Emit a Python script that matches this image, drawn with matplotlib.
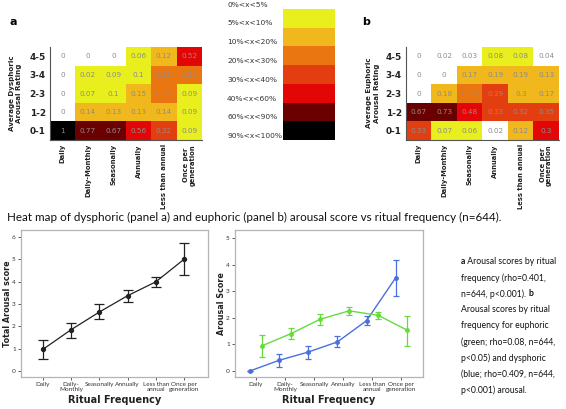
import numpy as np
import matplotlib
matplotlib.use('Agg')
import matplotlib.pyplot as plt
from matplotlib import font_manager
from matplotlib.colors import ListedColormap, BoundaryNorm

# Heat map data ------------------------------------------------------------
freq_labels = ['Daily', 'Daily-Monthly', 'Seasonally', 'Annually',
               'Less than annual', 'Once per\ngeneration']
rating_labels = ['4-5', '3-4', '2-3', '1-2', '0-1']  # top to bottom

dys_values = [[0, 0, 0, 0.06, 0.12, 0.52],
              [0, 0.02, 0.09, 0.1, 0.21, 0.22],
              [0, 0.07, 0.1, 0.15, 0.21, 0.09],
              [0, 0.14, 0.13, 0.13, 0.14, 0.09],
              [1, 0.77, 0.67, 0.56, 0.32, 0.09]]
# colour class used in the figure (0 = white ... 7 = black)
dys_levels = [[0, 0, 0, 1, 2, 5],
              [0, 1, 1, 1, 3, 3],
              [0, 1, 1, 2, 3, 1],
              [0, 2, 2, 2, 2, 1],
              [7, 6, 6, 5, 4, 1]]

eup_values = [[0, 0.02, 0.03, 0.08, 0.08, 0.04],
              [0, 0, 0.17, 0.19, 0.19, 0.13],
              [0, 0.18, 0.26, 0.39, 0.3, 0.17],
              [0.67, 0.73, 0.48, 0.33, 0.32, 0.35],
              [0.33, 0.07, 0.06, 0.02, 0.12, 0.3]]
eup_levels = [[0, 0, 0, 1, 1, 0],
              [0, 0, 2, 2, 2, 2],
              [0, 2, 3, 4, 2, 2],
              [6, 6, 5, 4, 4, 4],
              [4, 1, 1, 0, 2, 5]]

bin_labels = ['0%<x<5%', '5%<x<10%', '10%<x<20%', '20%<x<30%', '30%<x<40%',
              '40%<x<60%', '60%<x<90%', '90%<x<100%']
bin_colors = ['#ffffff', '#e8ef1c', '#f0b81c', '#ea7612', '#e23e10',
              '#e20606', '#6a0000', '#000000']

# Line plot data -------------------------------------------------------------
line_freq = ['Daily', 'Daily-\nMonthly', 'Seasonally', 'Annually',
             'Less than\nannual', 'Once per\ngeneration']
total_mean = [0.97, 1.85, 2.64, 3.37, 3.99, 5.0]
total_lo = [0.55, 1.48, 2.31, 3.1, 3.76, 4.3]
total_hi = [1.37, 2.16, 2.99, 3.61, 4.19, 5.73]

dys_mean = [0.0, 0.4, 0.71, 1.09, 1.89, 3.5]
dys_lo = [0.0, 0.14, 0.46, 0.88, 1.74, 2.8]
dys_hi = [0.0, 0.65, 0.94, 1.31, 2.05, 4.18]

eup_mean = [0.94, 1.4, 1.94, 2.26, 2.09, 1.53]
eup_lo = [0.53, 1.19, 1.71, 2.11, 1.94, 0.95]
eup_hi = [1.36, 1.61, 2.13, 2.39, 2.2, 2.08]

# caption: each line is a list of (text, bold)
caption_lines = [[('a', True), (' Arousal scores by ritual', False)],
                 [('frequency (rho=0.401,', False)],
                 [('n=644, p<0.001). ', False), ('b', True)],
                 [('Arousal scores by ritual', False)],
                 [('frequency for euphoric', False)],
                 [('(green; rho=0.08, n=644,', False)],
                 [('p<0.05) and dysphoric', False)],
                 [('(blue; rho=0.409, n=644,', False)],
                 [('p<0.001) arousal.', False)]]

W, H = 566, 409
fig = plt.figure(figsize=(W / 100, H / 100), dpi=100)


def px_axes(x0, y0, x1, y1):
    return fig.add_axes([x0 / W, 1 - y1 / H, (x1 - x0) / W, (y1 - y0) / H])


cmap = ListedColormap(bin_colors)
norm = BoundaryNorm(np.arange(-0.5, 8.5, 1), cmap.N)


def heatmap(ax, values, levels):
    ax.imshow(np.array(levels), cmap=cmap, norm=norm, aspect='auto',
              interpolation='nearest')
    for r, row in enumerate(values):
        for c, v in enumerate(row):
            ax.text(c, r, '%g' % v, ha='center', va='center', fontsize=5.2,
                    color='#8c8c8c')
    ax.set_xticks(range(len(freq_labels)))
    ax.set_xticklabels(freq_labels, rotation=90, fontsize=4.9,
                       fontweight='bold', va='top', ha='center', color='#222222',
                       linespacing=1.0)
    ax.set_yticks(range(len(rating_labels)))
    ax.set_yticklabels(rating_labels, fontsize=6.4, fontweight='bold', color='#222222')
    ax.tick_params(length=0, pad=3)
    for s in ['top', 'right']:
        ax.spines[s].set_visible(False)
    for s in ['left', 'bottom']:
        ax.spines[s].set_color('#555555')
        ax.spines[s].set_linewidth(0.8)


ax_a = px_axes(50, 47, 202, 140)
heatmap(ax_a, dys_values, dys_levels)
ax_b = px_axes(406, 47, 559, 140)
heatmap(ax_b, eup_values, eup_levels)

fig.text(10 / W, 1 - 22 / H, 'a', fontsize=8, fontweight='bold', va='center')
fig.text(362 / W, 1 - 22 / H, 'b', fontsize=8, fontweight='bold', va='center')
fig.text(16 / W, 1 - 93 / H, 'Average Dysphoric\nArousal Rating', rotation=90,
         fontsize=5.1, fontweight='bold', ha='center', va='center', color='#222222')
fig.text(373 / W, 1 - 93 / H, 'Average Euphoric\nArousal Rating', rotation=90,
         fontsize=5.1, fontweight='bold', ha='center', va='center', color='#222222')

# colour key
ax_k = px_axes(283, 9, 335, 140)
ax_k.imshow(np.arange(1, 8).reshape(-1, 1), cmap=cmap, norm=norm, aspect='auto')
ax_k.axis('off')
label_y = [5, 23, 42, 61, 80, 99, 117, 136]
for lab, yy in zip(bin_labels, label_y):
    fig.text(227 / W, 1 - yy / H, lab, fontsize=5.4, color='#333333',
             va='center', ha='left')

fig.text(7 / W, 1 - 217 / H,
         'Heat map of dysphoric (panel a) and euphoric (panel b) arousal score '
         'vs ritual frequency (n=644).', fontsize=8.4, family='Lato',
         va='center', color='#111111')


def frame(ax):
    for s in ax.spines.values():
        s.set_color('#b4b4b4')
        s.set_linewidth(0.9)
    ax.tick_params(length=2.2, width=0.6, color='#444444', labelsize=4.6,
                   labelcolor='#333333', pad=1.5)
    ax.set_xticks(range(len(line_freq)))
    ax.set_xticklabels(line_freq, linespacing=0.85, family='Lato')
    for t in ax.get_yticklabels():
        t.set_family('Lato')
    ax.set_xlabel('Ritual Frequency', fontsize=7, fontweight='bold',
                  color='#222222')
    ax.xaxis.set_label_coords(0.5, -0.125)


x = np.arange(len(line_freq))

ax_l = px_axes(21, 230, 208, 377)
ax_l.errorbar(x, total_mean,
              yerr=[np.subtract(total_mean, total_lo), np.subtract(total_hi, total_mean)],
              color='#222222', lw=0.9, marker='o', ms=2.8, capsize=3.5,
              elinewidth=0.9, capthick=0.9)
ax_l.set_xlim(-0.78, 5.85)
ax_l.set_ylim(-0.27, 6.31)
ax_l.set_yticks(range(7))
frame(ax_l)
ax_l.set_ylabel('Total Arousal score', fontsize=5.8, fontweight='bold',
                color='#222222')
ax_l.yaxis.set_label_coords(-0.047, 0.5)

ax_r = px_axes(235, 230, 423, 377)
ax_r.errorbar(x - 0.2, dys_mean,
              yerr=[np.subtract(dys_mean, dys_lo), np.subtract(dys_hi, dys_mean)],
              color='#4a6fe0', lw=1.0, marker='o', ms=2.5, capsize=2,
              elinewidth=0.9, capthick=0.9)
ax_r.errorbar(x + 0.2, eup_mean,
              yerr=[np.subtract(eup_mean, eup_lo), np.subtract(eup_hi, eup_mean)],
              color='#66dc3c', lw=1.0, marker='o', ms=2.5, capsize=2,
              elinewidth=0.9, capthick=0.9)
ax_r.set_xlim(-0.72, 5.74)
ax_r.set_ylim(-0.23, 5.3)
ax_r.set_yticks(range(6))
frame(ax_r)
ax_r.set_ylabel('Arousal Score', fontsize=5.8, fontweight='bold',
                color='#222222')
ax_r.yaxis.set_label_coords(-0.047, 0.5)

# caption beside the plots; prefer a narrow face like the original
try:
    font_manager.findfont('Liberation Sans Narrow', fallback_to_default=False)
    cap_font = 'Liberation Sans Narrow'
except ValueError:
    cap_font = 'Lato'
renderer = fig.canvas.get_renderer()
probe = fig.text(0, 0, 'a Arousal scores by ritual', fontsize=8, family=cap_font)
cap_size = 8 * 96.0 / probe.get_window_extent(renderer).width
probe.remove()
for i, segs in enumerate(caption_lines):
    xpos = 461.0
    for txt, bold in segs:
        t = fig.text(xpos / W, 1 - (262 + 16 * i) / H, txt, fontsize=cap_size,
                     family=cap_font, fontweight='bold' if bold else 'normal',
                     va='center', ha='left', color='#111111')
        xpos += t.get_window_extent(renderer).width

fig.savefig('out.png', dpi=100)
